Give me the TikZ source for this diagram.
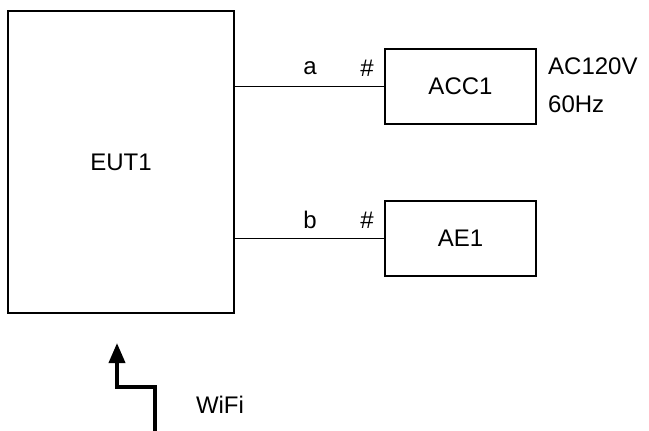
\documentclass[tikz,border=0pt]{standalone}
\usepackage{fontspec}
\setmainfont{Liberation Sans}
\usetikzlibrary{arrows.meta}
\begin{document}
\begin{tikzpicture}[x=1bp,y=-1bp,
  every node/.style={font=\fontsize{24bp}{28bp}\selectfont},
  unit/.style={draw,line width=1.4bp,rectangle,inner sep=0pt},
  lbl/.style={inner sep=0pt},
  wire/.style={line width=1.4bp},
  radio/.style={line width=3.8bp,-{Triangle[length=20bp,width=16bp]}}]
  \useasboundingbox (0,0) rectangle (649,430);
  % equipment under test and attached units
  \node[unit,minimum width=226bp,minimum height=302bp] (eut) at (121,162) {EUT1};
  \node[unit,minimum width=151bp,minimum height=75bp] (acc) at (460.5,86.5) {ACC1};
  \node[unit,minimum width=151bp,minimum height=75bp] (ae) at (460.5,238.5) {AE1};
  % cables
  \draw[wire] (eut.east |- acc.west) -- (acc.west);
  \draw[wire] (eut.east |- ae.west) -- (ae.west);
  \node[lbl] (la) at (310,68) {a};
  \node[lbl] (ha) at (367,68) {\#};
  \node[lbl] (lb) at (310,220) {b};
  \node[lbl] (hb) at (367,220) {\#};
  % supply rating
  \node[lbl,anchor=west] (volt) at (548,66) {AC120V};
  \node[lbl,anchor=west] (freq) at (548,104) {60Hz};
  % wireless link
  \coordinate (wsrc) at (155,432);
  \coordinate (wbend1) at (155,387);
  \coordinate (wbend2) at (117,387);
  \coordinate (wtip) at (117,343);
  \draw[radio] (wsrc) -- (wbend1) -- (wbend2) -- (wtip);
  \node[lbl] (wifi) at (220,405) {WiFi};
\end{tikzpicture}
\end{document}
